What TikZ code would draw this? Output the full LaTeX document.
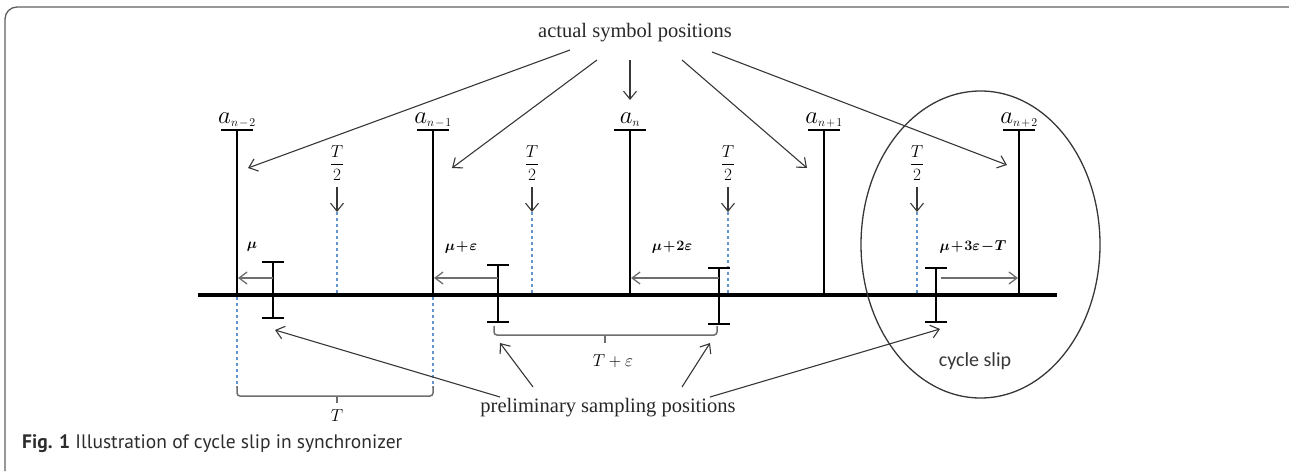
\documentclass[tikz,border=0pt]{standalone}
\usepackage{amsmath}
\usepackage{fontspec}
\setmainfont{Liberation Serif}
\newfontfamily\capfont{PT Sans}
\newfontfamily\slipfont{Carlito}
\usetikzlibrary{arrows.meta,shapes.geometric}
\definecolor{dashblue}{RGB}{100,150,205}
\definecolor{darkln}{RGB}{55,55,55}
\definecolor{offgray}{RGB}{110,110,110}
\newcommand{\tight}{\mkern-3mu}
\newcommand{\stight}{\mkern-2.5mu}
\newcommand{\subsz}[1]{\mbox{\fontsize{13}{15}\selectfont$#1$}}
\tikzset{
  frame/.style={line width=1.3pt, draw=darkln!80},
  symline/.style={line width=2.3pt, black},
  baseln/.style={line width=3.8pt, black},
  beam/.style={line width=2.2pt, black},
  ptr/.style={line width=1.1pt, draw=darkln, -{Straight Barb[length=8pt,width=13pt,line width=1.1pt]}},
  offarrow/.style={line width=2.2pt, draw=offgray, -{Straight Barb[length=8pt,width=12pt,line width=1.3pt]}},
  halfline/.style={line width=1.1pt, draw=dashblue, dash pattern=on 3pt off 3pt},
  bracket/.style={line width=1.5pt, draw=offgray, rounded corners=3pt},
  symlab/.style={font=\fontsize{23}{27}\selectfont, inner sep=0pt, anchor=base},
  halflab/.style={font=\fontsize{16}{20}\selectfont, inner sep=0pt},
  offlab/.style={font=\fontsize{14.5}{18}\selectfont, inner sep=0pt},
  bigtext/.style={font=\fontsize{20.5}{24}\selectfont, text=darkln!70!black, inner sep=0pt},
  brlab/.style={font=\fontsize{17}{20}\selectfont, inner sep=0pt, text=black},
}
\begin{document}
\begin{tikzpicture}[x=1pt,y=-1pt]
\useasboundingbox (0,0) rectangle (1289,471);
% frame
\draw[frame, rounded corners=12pt] (5,471) -- (5,7) -- (1289,7);

% baseline
\coordinate (bl) at (198,295);
\coordinate (br) at (1057,295);
\draw[baseln] (bl) -- (br);

% actual symbol positions
\foreach \n/\x/\lab in {1/237/{n\stight-\stight2},2/433/{n\stight-\stight1},3/630/{n},4/824/{n\stight+\stight1},5/1019/{n\stight+\stight2}}{
  \coordinate (s\n t) at (\x,130);
  \coordinate (s\n b) at (\x,295);
  \draw[symline] (s\n b) -- (s\n t);
  \draw[symline] ([xshift=-16pt]s\n t) -- ([xshift=16pt]s\n t);
  \node[symlab] (l\n) at (\x,123) {$a_{\subsz{\lab}}$};
}

% T/2 marks
\foreach \n/\x in {1/337,2/532,3/728,4/917}{
  \node[halflab] (h\n) at (\x,163) {$\dfrac{T}{2}$};
  \coordinate (h\n a) at (\x,187);
  \coordinate (h\n b) at (\x,212);
  \coordinate (h\n c) at (\x,295);
  \draw[ptr] (h\n a) -- (h\n b);
  \draw[halfline] (h\n b) -- (h\n c);
}

% preliminary sampling positions (I-beams)
\foreach \n/\x/\t/\b in {1/273/262/318,2/498/265/322,3/719/268/324,4/936/268/322}{
  \coordinate (p\n t) at (\x,\t);
  \coordinate (p\n b) at (\x,\b);
  \draw[beam] (p\n t) -- (p\n b);
  \draw[beam] ([xshift=-11pt]p\n t) -- ([xshift=11pt]p\n t);
  \draw[beam] ([xshift=-11pt]p\n b) -- ([xshift=11pt]p\n b);
}

% offset arrows
\coordinate (o1s) at (273,278); \coordinate (o1e) at (238,278);
\coordinate (o2s) at (498,278); \coordinate (o2e) at (434,278);
\coordinate (o3s) at (719,278); \coordinate (o3e) at (631,278);
\coordinate (o4s) at (941,278); \coordinate (o4e) at (1018,278);
\draw[offarrow] (o1s) -- (o1e);
\draw[offarrow] (o2s) -- (o2e);
\draw[offarrow] (o3s) -- (o3e);
\draw[offarrow] (o4s) -- (o4e);
\node[offlab] (m1) at (252,247) {$\boldsymbol{\mu}$};
\node[offlab] (m2) at (461,247) {$\boldsymbol{\mu\tight+\tight\varepsilon}$};
\node[offlab] (m3) at (672,247) {$\boldsymbol{\mu\tight+\tight2\varepsilon}$};
\node[offlab] (m4) at (973,247) {$\boldsymbol{\mu\tight+\tight3\varepsilon\tight-\tight T}$};

% T bracket (dashed extensions below baseline)
\coordinate (d1a) at (237,297); \coordinate (d1b) at (237,388);
\coordinate (d2a) at (433,297); \coordinate (d2b) at (433,388);
\draw[halfline] (d1a) -- (d1b);
\draw[halfline] (d2a) -- (d2b);
\draw[bracket] (237,386) -- (237,396) -- (433,396) -- (433,386);
\draw[bracket] (337,396) -- (337,403);
\node[brlab] (tlab) at (337,416) {$T$};

% T+eps bracket
\draw[bracket] (494,326) -- (494,335) -- (717,335) -- (717,326);
\draw[bracket] (605,335) -- (605,343);
\node[brlab] (telab) at (613,361) {$T+\varepsilon$};

% texts
\node[bigtext] (asp) at (635,33) {actual symbol positions};
\node[bigtext] (psp) at (608,408) {preliminary sampling positions};

% arrows from actual symbol positions
\coordinate (q1) at (570,50);  \coordinate (r1) at (248,168);
\coordinate (q2) at (597,60);  \coordinate (r2) at (452,168);
\coordinate (q3) at (630,60);  \coordinate (r3) at (630,100);
\coordinate (q4) at (682,60);  \coordinate (r4) at (807,168);
\coordinate (q5) at (712,52);  \coordinate (r5) at (1007,165);
\foreach \i in {1,...,5}{ \draw[ptr] (q\i) -- (r\i); }

% arrows from preliminary sampling positions
\coordinate (u1) at (500,397); \coordinate (v1) at (275,330);
\coordinate (u2) at (533,387); \coordinate (v2) at (500,343);
\coordinate (u3) at (682,387); \coordinate (v3) at (710,343);
\coordinate (u4) at (710,397); \coordinate (v4) at (940,329);
\foreach \i in {1,...,4}{ \draw[ptr] (u\i) -- (v\i); }

% cycle slip ellipse
\node[draw=darkln, line width=1.3pt, ellipse, minimum width=239pt, minimum height=307pt, inner sep=0pt] (slip) at (980.5,244.5) {};
\node[font=\slipfont\fontsize{20}{24}\selectfont, text=darkln, inner sep=0pt] (sliplab) at (975,361) {cycle slip};

% caption
\node[anchor=base west, inner sep=0pt, font=\capfont\fontsize{19.5}{23}\selectfont, text=darkln!80!black] (cap) at (22,448) {\textbf{Fig. 1} Illustration of cycle slip in synchronizer};
\end{tikzpicture}
\end{document}
